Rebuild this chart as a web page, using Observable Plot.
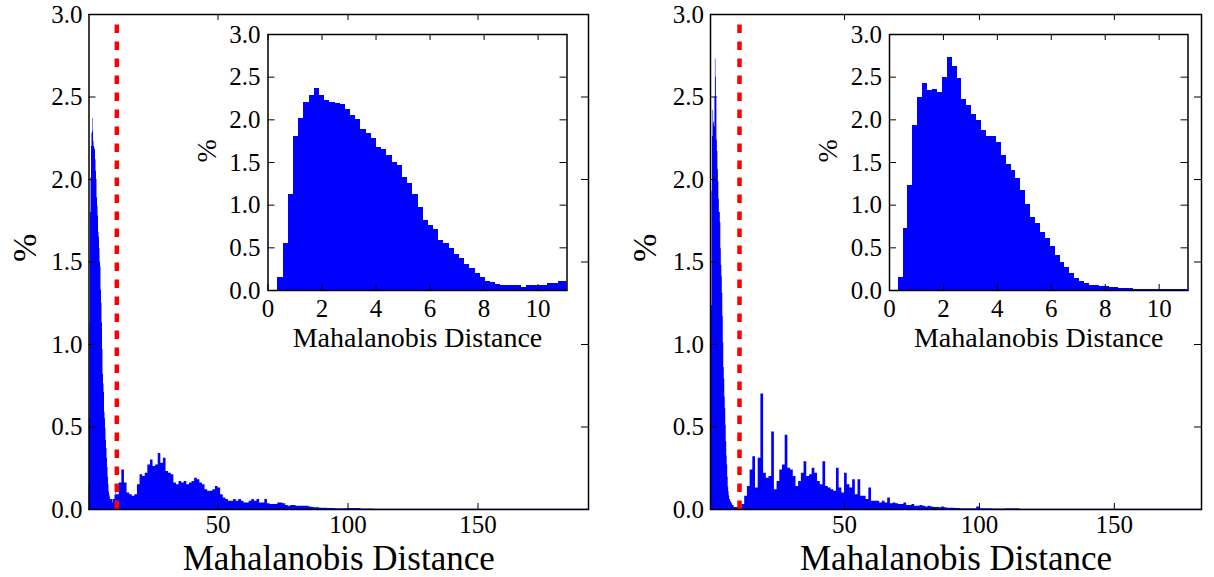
<!DOCTYPE html>
<html><head><meta charset="utf-8">
<script src="https://cdn.jsdelivr.net/npm/d3@7"></script>
<script src="https://cdn.jsdelivr.net/npm/@observablehq/plot@0.6"></script>
<style>
body{margin:0;background:#fff;}
#wrap{position:relative;width:1214px;height:577px;overflow:hidden;background:#fff;}
#wrap svg{position:absolute;background:transparent !important;overflow:visible;}
#wrap svg, #wrap svg text{font-family:"Liberation Serif","Times New Roman",serif !important;}
</style></head><body><div id="wrap"></div>
<script>
// ---- data (percent per bin) ----
const threshold = 11.07;
const xLabel = "Mahalanobis Distance";
const yLabel = "%";
const mainXTicks = [50, 100, 150];
const insetXTicks = [0, 2, 4, 6, 8, 10];
const yTicks = [0, 0.5, 1, 1.5, 2, 2.5, 3];

// left panel: fine bins (width 0.192 from 0.37)
const leftBinStart = 0.37, leftBinWidth = 0.192;
const leftPeak = [0.15,0.55,1.13,1.80,2.01,2.20,2.28,2.37,2.29,2.23,
  2.20,2.19,2.18,2.12,2.05,2.00,1.89,1.84,1.78,1.68,
  1.65,1.58,1.50,1.47,1.33,1.25,1.13,0.97,0.82,0.76,
  0.71,0.59,0.55,0.49,0.42,0.37,0.31,0.255,0.196,0.15,
  0.106,0.09,0.075,0.06,0.06,0.06,0.06,0.04,0.06,0.06,
  0.06,0.06,0.086,0.086,0.106,0.106,0.106];
// left panel tail: 1-unit bins from 11 to 100
const leftTail = [0.09,0.16,0.24,0.16,0.10,0.09,0.08,0.09,0.15,0.21,
  0.20,0.22,0.27,0.30,0.26,0.27,0.34,0.28,0.31,0.23,
  0.22,0.21,0.16,0.15,0.17,0.16,0.17,0.15,0.16,0.17,
  0.19,0.18,0.16,0.15,0.12,0.11,0.11,0.12,0.14,0.13,
  0.09,0.07,0.06,0.05,0.05,0.06,0.05,0.06,0.05,0.04,
  0.04,0.05,0.06,0.05,0.06,0.04,0.04,0.06,0.035,0.03,
  0.03,0.03,0.04,0.04,0.035,0.025,0.02,0.025,0.025,0.02,
  0.02,0.02,0.02,0.02,0.015,0.012,0.01,0.01,0.008,0.008,
  0.008,0.006,0.006,0.006,0.005,0.004,0.005,0.004,0.004];
// left panel far tail: 5-unit bins from 100
const leftFar = [0.006,0.003,0.002,0.002,0.0015,0.0015,0.0015,0.001,0.001,0.001,
  0.001,0.001,0.001,0.001,0.001,0.001,0.001,0.001,0.001];
const leftXDomain = [0.37, 192.5];

// right panel
const rightBinStart = 0.32, rightBinWidth = 0.182;
const rightPeak = [0.15,0.73,1.235,1.93,2.26,2.42,2.34,2.35,2.32,2.50,
  2.73,2.62,2.49,2.24,2.17,2.06,1.99,1.88,1.80,1.80,
  1.74,1.58,1.48,1.41,1.31,1.17,1.01,0.86,0.79,0.68,
  0.61,0.51,0.41,0.325,0.27,0.196,0.137,0.106,0.082,0.06,
  0.06,0.047,0.047,0.035,0.035,0.024,0.024,0.024,0.012,0.012,
  0.012,0.012,0.012,0.012,0.012,0.012,0.012,0.012,0.012];
const rightTail = [0.006,0.03,0.08,0.14,0.24,0.32,0.13,0.31,0.70,0.22,
  0.19,0.20,0.47,0.12,0.17,0.24,0.27,0.45,0.25,0.24,
  0.20,0.14,0.17,0.22,0.29,0.20,0.21,0.25,0.22,0.17,
  0.15,0.29,0.14,0.13,0.12,0.11,0.25,0.13,0.10,0.22,
  0.15,0.13,0.18,0.09,0.18,0.08,0.08,0.06,0.13,0.05,
  0.05,0.05,0.04,0.05,0.04,0.07,0.035,0.04,0.035,0.03,
  0.03,0.04,0.025,0.025,0.03,0.02,0.02,0.025,0.02,0.015,
  0.02,0.015,0.012,0.012,0.01,0.015,0.01,0.008,0.008,0.008,
  0.006,0.006,0.005,0.005,0.004,0.004,0.004,0.004,0.015];
const rightFar = [0.005,0.003,0.004,0.002,0.002,0.002,0.0015,0.0015,0.001,0.001,
  0.001,0.001,0.001,0.001,0.001,0.001,0.001];
const rightXDomain = [0.32, 182.3];

// ---- helpers ----
const FONT = "'Liberation Serif', 'Times New Roman', serif";
const BLUE = "#0000ff", RED = "#ff0000";
function bins(start, width, values) {
  return values.map((v, i) => ({x1: start + i * width, x2: start + (i + 1) * width, y: v}));
}
// histogram outline points (step-after) from bins
function mainSteps(peakStart, peakWidth, peak, tail, far) {
  const tailStart = 11, farStart = 11 + tail.length;
  const p = bins(peakStart, peakWidth, peak).filter(d => d.x1 < tailStart);
  const all = [...p, ...bins(tailStart, 1, tail), ...bins(farStart, 5, far)];
  const pts = all.map(d => ({x: d.x1, y: d.y}));
  pts.push({x: all[all.length - 1].x2, y: 0});
  return pts;
}
const fmt = d3.format(".1f");

function mainPlot(o) {
  const H = 577, mT = 14, mB = 68;
  const innerH = H - mT - mB, innerW = o.width - o.mL - o.mR;
  const svg = Plot.plot({
    width: o.width, height: H, marginLeft: o.mL, marginRight: o.mR, marginTop: mT, marginBottom: mB,
    style: {fontFamily: FONT, fontSize: "25px", color: "black", background: "transparent"},
    x: {domain: o.xDomain},
    y: {domain: [0, 3]},
    marks: [
      Plot.areaY(o.data, {x: "x", y: "y", curve: "step-after", fill: BLUE, clip: true}),
      Plot.ruleX([threshold], {y1: 0, y2: 2.95, stroke: RED, strokeWidth: 4.5, strokeDasharray: "8.5,8.5"}),
      Plot.frame({stroke: "black", strokeWidth: 1.5}),
      Plot.ruleX(mainXTicks, {insetTop: innerH - 6, stroke: "black", strokeWidth: 1}),
      Plot.ruleX(mainXTicks, {insetBottom: innerH - 6, stroke: "black", strokeWidth: 1}),
      Plot.ruleY(yTicks, {insetRight: innerW - 7, stroke: "black", strokeWidth: 1}),
      Plot.ruleY(yTicks, {insetLeft: innerW - 7, stroke: "black", strokeWidth: 1}),
      Plot.axisX({ticks: mainXTicks, tickSize: 0, tickPadding: 6, label: null, fontSize: 25, fontFamily: FONT, tickFormat: d => String(d)}),
      Plot.axisY({ticks: yTicks, tickSize: 0, tickPadding: 6.5, label: null, fontSize: 25, fontFamily: FONT, tickFormat: fmt}),
      Plot.text([xLabel], {frameAnchor: "bottom", dy: 49, lineAnchor: "middle", fontSize: 35, fontFamily: FONT, fill: "black"}),
      Plot.text([yLabel], {frameAnchor: "left", dx: o.pctDx, rotate: -90, lineAnchor: "middle", fontSize: 34, fontFamily: FONT, fill: "black"})
    ]
  });
  svg.style.left = o.left + "px";
  svg.style.top = "0px";
  return svg;
}

function insetPlot(o) {
  const W = 400, H = 340, mT = 14, mB = 70;
  const innerH = H - mT - mB, innerW = W - o.mL - o.mR;
  const svg = Plot.plot({
    width: W, height: H, marginLeft: o.mL, marginRight: o.mR, marginTop: mT, marginBottom: mB,
    style: {fontFamily: FONT, fontSize: "25px", color: "black", background: "transparent"},
    x: {domain: [0, threshold]},
    y: {domain: [0, 3]},
    marks: [
      Plot.frame({fill: "white"}),
      Plot.rect(o.data, {x1: "x1", x2: "x2", y1: 0, y2: "y", fill: BLUE, clip: true, shapeRendering: "crispEdges"}),
      Plot.frame({stroke: "black", strokeWidth: 1.5}),
      Plot.ruleX(insetXTicks, {insetTop: innerH - 6, stroke: "black", strokeWidth: 1}),
      Plot.ruleX(insetXTicks, {insetBottom: innerH - 6, stroke: "black", strokeWidth: 1}),
      Plot.ruleY(yTicks, {insetRight: innerW - 7, stroke: "black", strokeWidth: 1}),
      Plot.ruleY(yTicks, {insetLeft: innerW - 7, stroke: "black", strokeWidth: 1}),
      Plot.axisX({ticks: insetXTicks, tickSize: 0, tickPadding: 9, label: null, fontSize: 25, fontFamily: FONT, tickFormat: d => String(d)}),
      Plot.axisY({ticks: yTicks, tickSize: 0, tickPadding: 7.5, label: null, fontSize: 25, fontFamily: FONT, tickFormat: fmt}),
      Plot.text([xLabel], {frameAnchor: "bottom", dy: 48, lineAnchor: "middle", fontSize: 28, fontFamily: FONT, fill: "black"}),
      Plot.text([yLabel], {frameAnchor: "left", dx: o.pctDx, rotate: -90, lineAnchor: "middle", fontSize: 28, fontFamily: FONT, fill: "black"})
    ]
  });
  svg.style.left = o.left + "px";
  svg.style.top = o.top + "px";
  return svg;
}

const wrap = document.getElementById("wrap");
wrap.appendChild(mainPlot({
  data: mainSteps(leftBinStart, leftBinWidth, leftPeak, leftTail, leftFar),
  xDomain: leftXDomain, left: 0, width: 600, mL: 88.5, mR: 12, pctDx: -64
}));
wrap.appendChild(mainPlot({
  data: mainSteps(rightBinStart, rightBinWidth, rightPeak, rightTail, rightFar),
  xDomain: rightXDomain, left: 610, width: 604, mL: 100, mR: 13, pctDx: -65
}));
wrap.appendChild(insetPlot({
  data: bins(leftBinStart, leftBinWidth, leftPeak), left: 180, top: 20, mL: 87.5, mR: 13.5, pctDx: -60.5
}));
wrap.appendChild(insetPlot({
  data: bins(rightBinStart, rightBinWidth, rightPeak), left: 800, top: 20, mL: 89, mR: 12.5, pctDx: -61
}));
</script></body></html>
